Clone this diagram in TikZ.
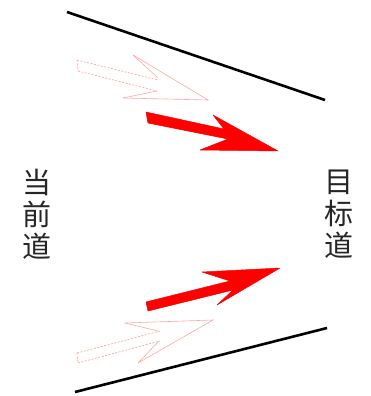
\documentclass[tikz,border=0pt]{standalone}
\usepackage{fontspec}
\newfontfamily\cjk{Noto Sans CJK SC}
\begin{document}
\begin{tikzpicture}[x=1pt,y=-1pt,
  lane/.style={line width=2.6pt,black},
  bigarrow/.style={fill=red,draw=red,line width=0.5pt,line join=round},
  ghost/.style={draw=red!40,line width=0.6pt,dashed,dash pattern=on 2pt off 1.5pt},
  ghosthead/.style={draw=red!35,line width=0.6pt},
  lbl/.style={font=\cjk\fontsize{29}{33}\selectfont,text=black!85,align=center,inner sep=0pt}]
\useasboundingbox (0,0) rectangle (370,396);
% lane boundaries
\draw[lane] (67,12) -- (325,100);
\draw[lane] (75,392) -- (327,328);
% labels
\node[lbl] (cur) at (37,214) {当\\[-1pt]前\\[-1pt]道};
\node[lbl] (tgt) at (339,214) {目\\[-1pt]标\\[-1pt]道};
% top solid arrow
\fill[bigarrow] (146,112) -- (224,129) -- (213,115) -- (278,151) -- (200,150) -- (228,139) -- (148,123) -- cycle;
% bottom solid arrow
\fill[bigarrow] (146,302) -- (230,281) -- (202,272) -- (280,268) -- (217,305) -- (233,290) -- (148,311) -- cycle;
% top faint arrow
\draw[ghost] (77,60) -- (158,80);
\draw[ghost] (78,71) -- (157,91);
\draw[ghost] (77,60) -- (78,71);
\draw[ghosthead] (133,55) -- (208,100) -- (123,98);
\draw[ghosthead] (133,55) -- (158,78);
\draw[ghosthead] (123,98) -- (157,91);
% bottom faint arrow
\draw[ghost] (77,353) -- (160,331);
\draw[ghost] (78,363) -- (160,341);
\draw[ghost] (77,353) -- (78,363);
\draw[ghosthead] (125,323) -- (213,320) -- (138,363);
\draw[ghosthead] (125,323) -- (158,331);
\draw[ghosthead] (138,363) -- (159,341);
\end{tikzpicture}
\end{document}
